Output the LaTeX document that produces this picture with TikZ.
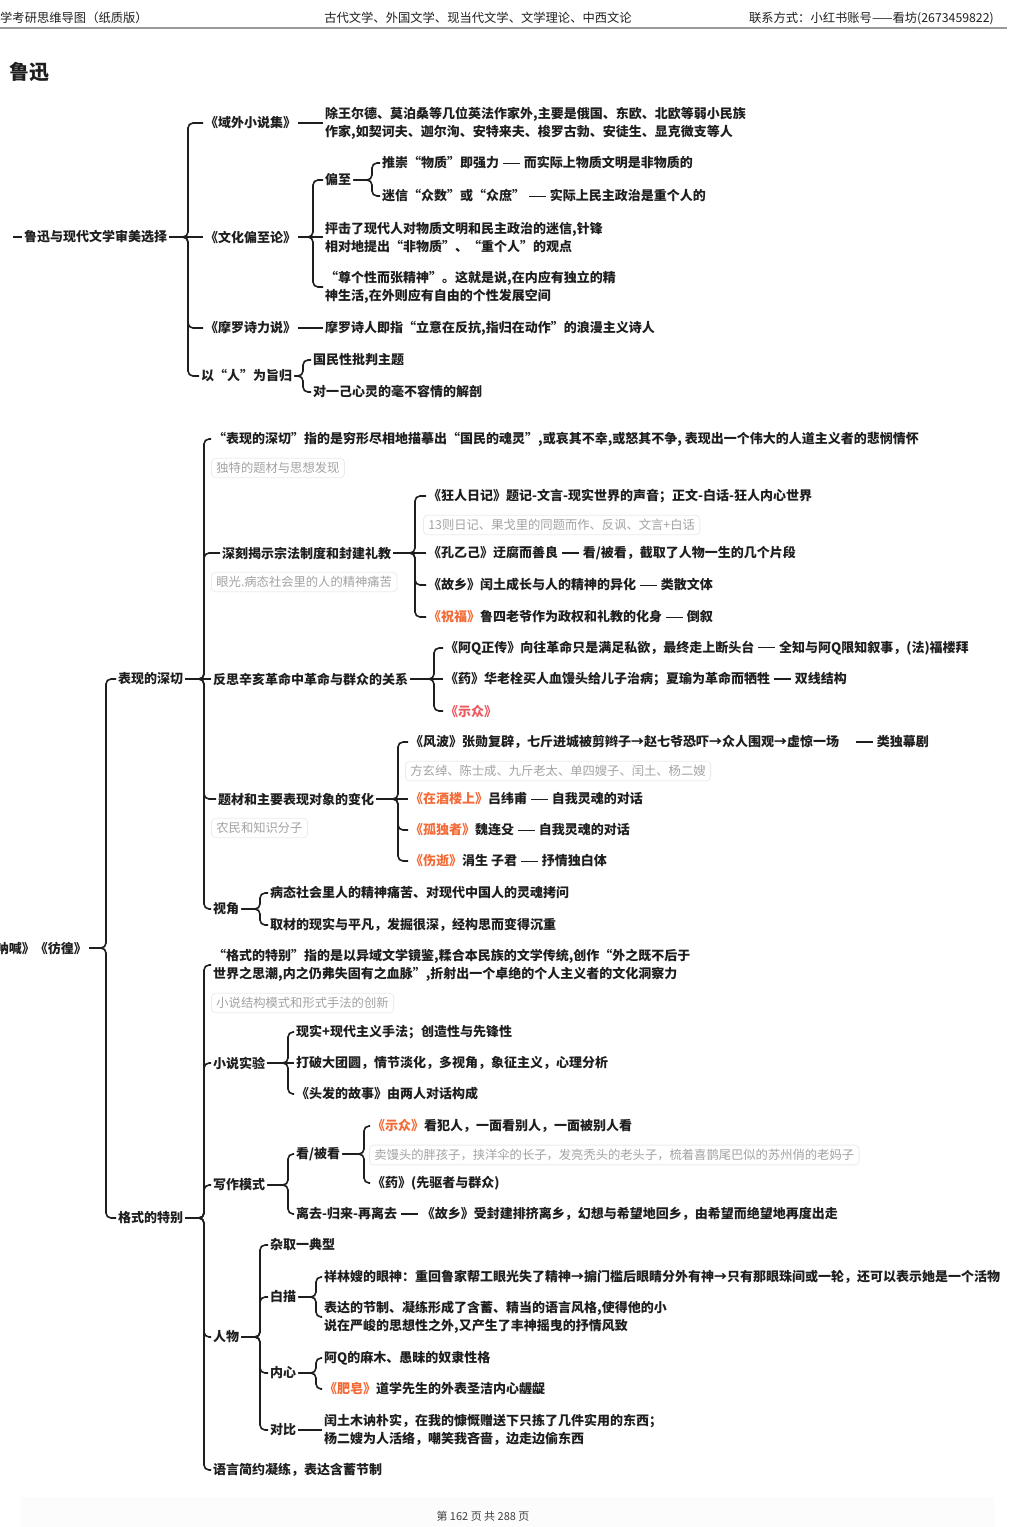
\documentclass[tikz,border=0pt]{standalone}
\usepackage{fontspec}
\setmainfont{Noto Sans CJK SC}
\usepackage{xcolor}
\usepackage{tikz}
\usetikzlibrary{positioning}

\definecolor{ink}{HTML}{1E1E1E}
\definecolor{hot}{HTML}{F26A36}
\definecolor{rd}{HTML}{EC5A5F}
\definecolor{note}{HTML}{A2A2A2}
\newcommand\hot[1]{\textcolor{hot}{#1}}
\newcommand\dashbar{\hspace{0.3em}\rule[0.3em]{1.3em}{1.5pt}\hspace{0.3em}}

\begin{document}
\begin{tikzpicture}[x=1pt, y=-1pt,
  tp/.style={anchor=west, inner sep=2pt, text=ink, align=left, font=\fontsize{13}{18}\selectfont\bfseries},
  nt/.style={anchor=west, inner xsep=5pt, inner ysep=4pt, rounded corners=4pt, draw=black!8, line width=0.8pt, text=note, font=\fontsize{12.3}{15}\selectfont},
  hd/.style={inner sep=0pt, text=ink, font=\fontsize{12.3}{14}\selectfont},
  link/.style={draw=ink, line width=1.6pt, rounded corners=5pt}]
\useasboundingbox (0,0) rectangle (1015,1527);
\fill[black!1] (20,1497) rectangle (995,1527);

% header and footer
\node[hd, anchor=west] (hdl) at (0,18) {学考研思维导图（纸质版）};
\node[hd] (hdm) at (478,18) {古代文学、外国文学、现当代文学、文学理论、中西文论};
\node[hd, anchor=east] (hdr) at (994,18) {联系方式：小红书账号——看坊(2673459822)};
\draw[black!40, line width=2pt] (0,28) -- (1007,28);
\node[anchor=west, inner sep=0pt, text=ink, font=\fontsize{20}{22}\selectfont\bfseries] (ttl) at (9,72) {鲁迅};
\node[hd, text=black!75, font=\fontsize{11}{13}\selectfont] (ftr) at (483,1516) {第 162 页 共 288 页};

% 鲁迅与现代文学审美选择
\coordinate (a0in) at (13,237);
\node[tp] (a0) at (22,237) {鲁迅与现代文学审美选择};
\node[tp] (a1) at (203,123) {《域外小说集》};
\node[tp] (a11) at (323,123) {除王尔德、莫泊桑等几位英法作家外,主要是俄国、东欧、北欧等弱小民族\\作家,如契诃夫、迦尔洵、安特来夫、梭罗古勃、安徒生、显克微支等人};
\node[tp] (a2) at (203,237) {《文化偏至论》};
\node[tp] (a21) at (323,180) {偏至};
\node[tp] (a211) at (380,163) {推崇“物质”即强力\dashbar 而实际上物质文明是非物质的};
\node[tp] (a212) at (380,196) {迷信“众数”或“众庶”\dashbar 实际上民主政治是重个人的};
\node[tp] (a22) at (323,237) {抨击了现代人对物质文明和民主政治的迷信,针锋\\相对地提出“非物质”、“重个人”的观点};
\node[tp] (a23) at (323,287) {“尊个性而张精神”。这就是说,在内应有独立的精\\神生活,在外则应有自由的个性发展空间};
\node[tp] (a3) at (203,328) {《摩罗诗力说》};
\node[tp] (a31) at (323,328) {摩罗诗人即指“立意在反抗,指归在动作”的浪漫主义诗人};
\node[tp] (a4) at (199,376) {以“人”为旨归};
\node[tp] (a41) at (311,360) {国民性批判主题};
\node[tp] (a42) at (311,392) {对一己心灵的毫不容情的解剖};

\draw[link] (a0in) -- (a0.west);
\coordinate (j0) at (188,237);
\foreach \n in {a1,a3,a4} \draw[link] (a0.east) -- (j0) |- (\n.west);
\draw[link] (a0.east) -- (a2.west);
\draw[link] (a1.east) -- (a11.west);
\coordinate (j2) at (313,237);
\foreach \n in {a21,a23} \draw[link] (a2.east) -- (j2) |- (\n.west);
\draw[link] (a2.east) -- (a22.west);
\coordinate (j21) at (372,180);
\foreach \n in {a211,a212} \draw[link] (a21.east) -- (j21) |- (\n.west);
\draw[link] (a3.east) -- (a31.west);
\coordinate (j4) at (303,376);
\foreach \n in {a41,a42} \draw[link] (a4.east) -- (j4) |- (\n.west);

% 《呐喊》《彷徨》
\node[tp, anchor=east] (b0) at (89,948) {《呐喊》《彷徨》};
\node[tp] (b1) at (116,679) {表现的深切};
\node[tp] (b11) at (211,439) {“表现的深切”指的是穷形尽相地描摹出“国民的魂灵”,或哀其不幸,或怒其不争, 表现出一个伟大的人道主义者的悲悯情怀};
\node[nt] (n11) at (211,468) {独特的题材与思想发现};
\node[tp] (b12) at (220,553) {深刻揭示宗法制度和封建礼教};
\node[nt] (n12) at (211,582) {眼光.病态社会里的人的精神痛苦};
\node[tp] (b121) at (426,496) {《狂人日记》题记-文言-现实世界的声音；正文-白话-狂人内心世界};
\node[nt] (n121) at (423,525) {13则日记、果戈里的同题而作、反讽、文言+白话};
\node[tp] (b122) at (426,553) {《孔乙己》迂腐而善良\dashbar 看/被看，截取了人物一生的几个片段};
\node[tp] (b123) at (426,585) {《故乡》闰土成长与人的精神的异化\dashbar 类散文体};
\node[tp] (b124) at (426,617) {\hot{《祝福》}鲁四老爷作为政权和礼教的化身\dashbar 倒叙};
\node[tp] (b13) at (211,679) {反思辛亥革命中革命与群众的关系};
\node[tp] (b131) at (443,648) {《阿Q正传》向往革命只是满足私欲，最终走上断头台\dashbar 全知与阿Q限知叙事，(法)福楼拜};
\node[tp] (b132) at (443,679) {《药》华老栓买人血馒头给儿子治病；夏瑜为革命而牺牲\dashbar 双线结构};
\node[tp] (b133) at (443,711) {\textcolor{rd}{《示众》}};
\node[tp] (b14) at (216,799) {题材和主要表现对象的变化};
\node[nt] (n14) at (211,828) {农民和知识分子};
\node[tp] (b141) at (408,742) {《风波》张勋复辟，七斤进城被剪辫子→赵七爷恐吓→众人围观→虚惊一场\quad\dashbar 类独幕剧};
\node[nt] (n141) at (405,771) {方玄绰、陈士成、九斤老太、单四嫂子、闰土、杨二嫂};
\node[tp] (b142) at (408,799) {\hot{《在酒楼上》}吕纬甫\dashbar 自我灵魂的对话};
\node[tp] (b143) at (408,830) {\hot{《孤独者》}魏连殳\dashbar 自我灵魂的对话};
\node[tp] (b144) at (408,861) {\hot{《伤逝》}涓生 子君\dashbar 抒情独白体};
\node[tp] (b15) at (211,909) {视角};
\node[tp] (b151) at (268,893) {病态社会里人的精神痛苦、对现代中国人的灵魂拷问};
\node[tp] (b152) at (268,925) {取材的现实与平凡，发掘很深，经构思而变得沉重};

\node[tp] (b2) at (116,1218) {格式的特别};
\node[tp] (b21) at (211,965) {“格式的特别”指的是以异域文学镜鉴,糅合本民族的文学传统,创作“外之既不后于\\世界之思潮,内之仍弗失固有之血脉”,折射出一个卓绝的个人主义者的文化洞察力};
\node[nt] (n21) at (211,1003) {小说结构模式和形式手法的创新};
\node[tp] (b22) at (211,1063) {小说实验};
\node[tp] (b221) at (294,1032) {现实+现代主义手法；创造性与先锋性};
\node[tp] (b222) at (294,1063) {打破大团圆，情节淡化，多视角，象征主义，心理分析};
\node[tp] (b223) at (294,1094) {《头发的故事》由两人对话构成};
\node[tp] (b23) at (211,1185) {写作模式};
\node[tp] (b231) at (294,1154) {看/被看};
\node[tp] (b2311) at (370,1126) {\hot{《示众》}看犯人，一面看别人，一面被别人看};
\node[nt] (n2311) at (369,1155) {卖馒头的胖孩子，挟洋伞的长子，发亮秃头的老头子，梳着喜鹊尾巴似的苏州俏的老妈子};
\node[tp] (b2312) at (370,1183) {《药》(先驱者与群众)};
\node[tp] (b232) at (294,1214) {离去-归来-再离去\dashbar 《故乡》受封建排挤离乡，幻想与希望地回乡，由希望而绝望地再度出走};
\node[tp] (b24) at (211,1337) {人物};
\node[tp] (b241) at (268,1245) {杂取一典型};
\node[tp] (b242) at (268,1297) {白描};
\node[tp] (b2421) at (322,1277) {祥林嫂的眼神：重回鲁家帮工眼光失了精神→掮门槛后眼睛分外有神→只有那眼珠间或一轮，还可以表示她是一个活物};
\node[tp] (b2422) at (322,1317) {表达的节制、凝练形成了含蓄、精当的语言风格,使得他的小\\说在严峻的思想性之外,又产生了丰神摇曳的抒情风致};
\node[tp] (b243) at (268,1373) {内心};
\node[tp] (b2431) at (322,1358) {阿Q的麻木、愚昧的奴隶性格};
\node[tp] (b2432) at (322,1389) {\hot{《肥皂》}道学先生的外表圣洁内心龌龊};
\node[tp] (b244) at (268,1430) {对比};
\node[tp] (b2441) at (322,1430) {闰土木讷朴实，在我的慷慨赠送下只拣了几件实用的东西；\\杨二嫂为人活络，嘲笑我吝啬，边走边偷东西};
\node[tp] (b25) at (211,1470) {语言简约凝练，表达含蓄节制};

\coordinate (k0) at (106,948);
\foreach \n in {b1,b2} \draw[link] (b0.east) -- (k0) |- (\n.west);
\coordinate (k1) at (204,679);
\foreach \n in {b11,b12,b14,b15} \draw[link] (b1.east) -- (k1) |- (\n.west);
\draw[link] (b1.east) -- (b13.west);
\coordinate (k12) at (415,553);
\foreach \n in {b121,b123,b124} \draw[link] (b12.east) -- (k12) |- (\n.west);
\draw[link] (b12.east) -- (b122.west);
\coordinate (k13) at (434,679);
\foreach \n in {b131,b133} \draw[link] (b13.east) -- (k13) |- (\n.west);
\draw[link] (b13.east) -- (b132.west);
\coordinate (k14) at (398,799);
\foreach \n in {b141,b143,b144} \draw[link] (b14.east) -- (k14) |- (\n.west);
\draw[link] (b14.east) -- (b142.west);
\coordinate (k15) at (260,909);
\foreach \n in {b151,b152} \draw[link] (b15.east) -- (k15) |- (\n.west);
\coordinate (k2) at (204,1218);
\foreach \n in {b21,b22,b23,b24,b25} \draw[link] (b2.east) -- (k2) |- (\n.west);
\coordinate (k22) at (288,1063);
\foreach \n in {b221,b223} \draw[link] (b22.east) -- (k22) |- (\n.west);
\draw[link] (b22.east) -- (b222.west);
\coordinate (k23) at (288,1185);
\foreach \n in {b231,b232} \draw[link] (b23.east) -- (k23) |- (\n.west);
\coordinate (k231) at (364,1154);
\foreach \n in {b2311,b2312} \draw[link] (b231.east) -- (k231) |- (\n.west);
\coordinate (k24) at (260,1337);
\foreach \n in {b241,b242,b243,b244} \draw[link] (b24.east) -- (k24) |- (\n.west);
\coordinate (k242) at (316,1297);
\foreach \n in {b2421,b2422} \draw[link] (b242.east) -- (k242) |- (\n.west);
\coordinate (k243) at (316,1373);
\foreach \n in {b2431,b2432} \draw[link] (b243.east) -- (k243) |- (\n.west);
\draw[link] (b244.east) -- (b2441.west);
\end{tikzpicture}
\end{document}
